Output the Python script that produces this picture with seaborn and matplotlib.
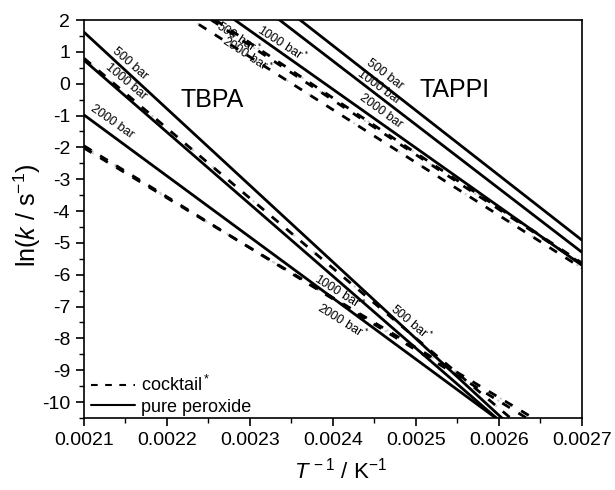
import numpy as np
import pandas as pd
import matplotlib
matplotlib.use('Agg')
import matplotlib.pyplot as plt
import seaborn as sns
from matplotlib.lines import Line2D
from matplotlib.ticker import MultipleLocator

# each line: ln k at the two x values (lines run past the frame)
tbpa_x = [0.0021, 0.0027]
tbpa_pure = {'500 bar': [1.62, -12.82],
             '1000 bar': [0.74, -12.83],
             '2000 bar': [-0.98, -12.49]}
tbpa_cocktail = {'500 bar*': [0.80, -12.39],
                 '1000 bar*': [-1.95, -11.57],
                 '2000 bar*': [-2.02, -11.42]}

tappi_x = [0.0022, 0.0027]
tappi_pure = {'500 bar': [5.27, -4.91],
              '1000 bar': [4.72, -5.29],
              '2000 bar': [3.51, -5.70]}
tappi_cocktail = {'500 bar*': [3.01, -5.63],
                  '1000 bar*': [2.92, -5.66],
                  '2000 bar*': [2.50, -5.79]}

rows = []
for name, xs, group, kind in [('TBPA', tbpa_x, tbpa_pure, 'pure'),
                              ('TBPA', tbpa_x, tbpa_cocktail, 'cocktail'),
                              ('TAPPI', tappi_x, tappi_pure, 'pure'),
                              ('TAPPI', tappi_x, tappi_cocktail, 'cocktail')]:
    for p, ys in group.items():
        for x, y in zip(xs, ys):
            rows.append({'x': x, 'y': y, 'line': name + ' ' + p, 'kind': kind})
df = pd.DataFrame(rows)

sns.set_style('ticks')
plt.rcParams['font.family'] = ['Liberation Sans', 'DejaVu Sans']
plt.rcParams['mathtext.fontset'] = 'custom'
plt.rcParams['mathtext.rm'] = 'Liberation Sans'
plt.rcParams['mathtext.it'] = 'Liberation Sans:italic'
plt.rcParams['axes.unicode_minus'] = False
plt.rcParams['text.color'] = 'black'
plt.rcParams['axes.labelcolor'] = 'black'
plt.rcParams['xtick.color'] = 'black'
plt.rcParams['ytick.color'] = 'black'
plt.rcParams['axes.edgecolor'] = 'black'

fig = plt.figure(figsize=(6.15, 4.9), dpi=100)
ax = fig.add_axes([0.1366, 0.147, 0.8094, 0.812])

dash = (3.2, 3.6)
# faint grey dots sitting in the gaps of the cocktail dashes
sns.lineplot(data=df[df['kind'] == 'cocktail'], x='x', y='y', units='line',
             estimator=None, sort=False, color='#c8c8c8', lw=1.4,
             legend=False, ax=ax)
for ln in ax.lines:
    ln.set_linestyle((-4.8, (1.0, 12.6)))
sns.lineplot(data=df, x='x', y='y', units='line', style='kind',
             dashes={'pure': '', 'cocktail': dash}, estimator=None, sort=False,
             color='black', lw=2.0, legend=False, ax=ax)

ax.set_xlim(0.0021, 0.0027)
ax.set_ylim(-10.5, 2)
ax.xaxis.set_major_locator(MultipleLocator(0.0001))
ax.xaxis.set_minor_locator(MultipleLocator(0.00005))
ax.yaxis.set_major_locator(MultipleLocator(1))
ax.yaxis.set_minor_locator(MultipleLocator(0.5))
ax.set_xticks(ax.get_xticks())
ax.set_xticklabels([f'{v:.4f}' for v in ax.get_xticks()])
ax.set_xlim(0.0021, 0.0027)
ax.tick_params(which='major', length=6, width=1.2, labelsize=14, direction='out', pad=4)
ax.tick_params(which='minor', length=3.5, width=1.0, direction='out')
for s in ax.spines.values():
    s.set_linewidth(1.2)

ax.set_xlabel(r'$T^{\,-1}$ / K$^{-1}$', fontsize=16)
ax.set_ylabel(r'ln($k$ / s$^{-1}$)', fontsize=18)
ax.xaxis.set_label_coords(0.515, -0.1)
ax.yaxis.set_label_coords(-0.083, 0.51)

ax.text(0.002254, -0.50, 'TBPA', fontsize=18, ha='center', va='center')
ax.text(0.002547, -0.20, 'TAPPI', fontsize=18, ha='center', va='center')

lab = dict(fontsize=9, ha='center', va='center')
ax.text(0.002155, 0.62, '500 bar', rotation=-41, **lab)
ax.text(0.002150, 0.08, '1000 bar', rotation=-40, **lab)
ax.text(0.002134, -1.20, '2000 bar', rotation=-35, **lab)
ax.text(0.002494, -7.50, '500 bar$^*$', rotation=-40, **lab)
ax.text(0.002408, -6.55, '1000 bar$^*$', rotation=-32, **lab)
ax.text(0.002411, -7.45, '2000 bar$^*$', rotation=-32, **lab)
ax.text(0.002462, 0.30, '500 bar', rotation=-37, **lab)
ax.text(0.002456, -0.12, '1000 bar', rotation=-36, **lab)
ax.text(0.002458, -0.85, '2000 bar', rotation=-36, **lab)
ax.text(0.002286, 1.45, '500 bar$^*$', rotation=-33, **lab)
ax.text(0.002339, 1.25, '1000 bar$^*$', rotation=-33, **lab)
ax.text(0.002297, 0.90, '2000 bar$^*$', rotation=-33, **lab)

handles = [Line2D([], [], color='black', lw=1.5, dashes=dash),
           Line2D([], [], color='black', lw=1.5)]
ax.legend(handles, ['cocktail$^*$', 'pure peroxide'], loc='lower left',
          bbox_to_anchor=(0.0, -0.012), frameon=False, fontsize=13,
          handlelength=2.4, handletextpad=0.35, labelspacing=0.2,
          borderaxespad=0.0)

fig.savefig('out.png', dpi=100)
